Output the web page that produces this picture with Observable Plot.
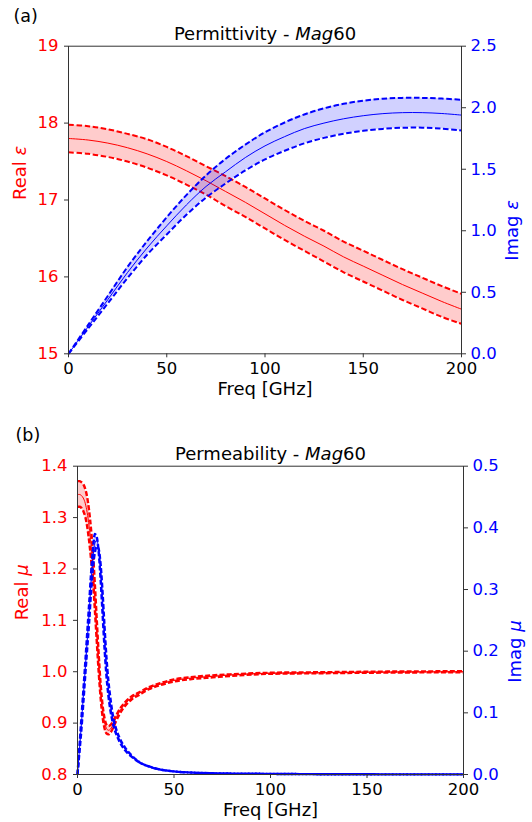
<!DOCTYPE html>
<html><head><meta charset="utf-8">
<script src="https://cdn.jsdelivr.net/npm/d3@7"></script>
<script src="https://cdn.jsdelivr.net/npm/@observablehq/plot@0.6"></script>
<style>html,body{margin:0;padding:0;background:#fff;} #chart svg{display:block;}</style>
</head><body><div id="chart"></div>
<script>
// ---------- Panel (a): Permittivity ----------
const freqA = [0,10,20,30,40,50,60,70,80,90,100,110,120,130,140,150,160,170,180,190,200];
const epsRealMean = [17.80,17.78,17.74,17.68,17.60,17.50,17.38,17.25,17.11,16.97,16.82,16.67,16.53,16.40,16.26,16.14,16.02,15.90,15.79,15.68,15.58];
const epsRealUp   = [17.98,17.96,17.92,17.86,17.79,17.69,17.57,17.44,17.31,17.17,17.02,16.87,16.73,16.60,16.46,16.34,16.22,16.10,15.99,15.88,15.78];
const epsRealLo   = [17.62,17.60,17.56,17.50,17.42,17.32,17.20,17.07,16.92,16.78,16.63,16.48,16.34,16.20,16.06,15.94,15.82,15.70,15.59,15.48,15.39];
const epsImagMean = [0,0.22,0.44,0.66,0.86,1.04,1.21,1.36,1.48,1.595,1.69,1.765,1.83,1.875,1.91,1.935,1.952,1.96,1.96,1.953,1.94];
const epsImagUp   = [0,0.235,0.47,0.705,0.915,1.11,1.29,1.45,1.585,1.70,1.80,1.88,1.945,1.995,2.032,2.057,2.073,2.08,2.08,2.074,2.065];
const epsImagLo   = [0,0.205,0.41,0.615,0.805,0.97,1.13,1.27,1.385,1.49,1.58,1.65,1.71,1.755,1.788,1.812,1.828,1.837,1.838,1.83,1.815];
const epsRealTicks = [15,16,17,18,19];
const epsImagTicks = [0,0.5,1.0,1.5,2.0,2.5];

// ---------- Panel (b): Permeability ----------
const freqB = [0,1,2,3,4,5,6,7,8,9,10,11,12,13,14,15,16,17,18,19,20,22,25,28,32,37,43,50,60,70,80,100,125,150,200];
const muRealMean = [1.345,1.345,1.343,1.338,1.328,1.31,1.283,1.248,1.205,1.145,1.08,1.016,0.962,0.925,0.902,0.89,0.886,0.888,0.894,0.902,0.91,0.924,0.939,0.949,0.958,0.968,0.976,0.983,0.988,0.991,0.994,0.997,0.998,0.999,1.0];
const muRealUp   = [1.371,1.371,1.369,1.365,1.356,1.34,1.314,1.278,1.232,1.17,1.1,1.033,0.975,0.935,0.91,0.897,0.894,0.896,0.901,0.908,0.915,0.928,0.942,0.952,0.96,0.97,0.978,0.985,0.99,0.993,0.995,0.998,0.999,1.0,1.001];
const muRealLo   = [1.321,1.321,1.319,1.313,1.302,1.283,1.255,1.22,1.178,1.12,1.058,0.998,0.948,0.912,0.89,0.88,0.878,0.881,0.887,0.895,0.904,0.919,0.935,0.946,0.955,0.966,0.974,0.981,0.986,0.989,0.992,0.996,0.997,0.998,0.999];
const muImagMean = [0,0.04,0.08,0.125,0.17,0.215,0.26,0.31,0.35,0.375,0.38,0.365,0.33,0.28,0.225,0.175,0.14,0.115,0.095,0.08,0.07,0.055,0.04,0.03,0.02,0.013,0.008,0.005,0.003,0.002,0.0015,0.001,0.0005,0.0003,0.0002];
const muImagUp   = [0,0.045,0.09,0.135,0.18,0.228,0.275,0.325,0.365,0.39,0.385,0.36,0.315,0.26,0.205,0.16,0.128,0.105,0.088,0.075,0.066,0.052,0.038,0.029,0.02,0.013,0.008,0.005,0.003,0.002,0.0015,0.001,0.0005,0.0003,0.0002];
const muImagLo   = [0,0.036,0.072,0.115,0.16,0.203,0.245,0.295,0.335,0.36,0.37,0.365,0.34,0.295,0.24,0.19,0.152,0.125,0.102,0.086,0.074,0.058,0.042,0.031,0.02,0.013,0.008,0.005,0.003,0.002,0.0015,0.001,0.0005,0.0003,0.0002];
const muRealTicks = [0.8,0.9,1.0,1.1,1.2,1.3,1.4];
const muImagTicks = [0,0.1,0.2,0.3,0.4,0.5];

const freqTicks = [0,50,100,150,200];
const FONT = "DejaVu Sans";
const RED = "#ff0000", BLUE = "#0000ff", SPINE = "#333333";

function setParts(svg, cls, parts) {
  d3.select(svg).selectAll("g." + cls + " text").each(function () {
    const t = d3.select(this);
    t.text(null);
    parts.forEach(([s, it]) => {
      const sp = t.append("tspan").text(s);
      if (it) sp.attr("font-style", "italic");
    });
  });
}

function panel(cfg) {
  const [r0, r1] = cfg.realDomain;
  const toReal = v => r0 + v / cfg.imagMax * (r1 - r0);
  const rows = cfg.freq.map((f, i) => ({
    f, rm: cfg.rMean[i], ru: cfg.rUp[i], rl: cfg.rLo[i],
    im: toReal(cfg.iMean[i]), iu: toReal(cfg.iUp[i]), il: toReal(cfg.iLo[i])
  }));
  const curve = cfg.curve;
  const dash = {strokeDasharray: cfg.dashArray, strokeWidth: cfg.dashWidth, strokeLinecap: "butt", curve};
  const svg = Plot.plot({
    width: 532, height: cfg.height,
    marginTop: cfg.mt, marginBottom: cfg.mb, marginLeft: cfg.ml, marginRight: cfg.mr,
    style: {fontFamily: FONT, fontSize: "16.5px", color: "#000", background: "#fff", overflow: "visible"},
    x: {domain: [0, 200]},
    y: {domain: cfg.realDomain},
    marks: [
      Plot.areaY(rows, {x: "f", y1: "rl", y2: "ru", fill: RED, fillOpacity: 0.2, curve}),
      Plot.lineY(rows, {x: "f", y: "rm", stroke: RED, strokeWidth: 1, curve}),
      Plot.lineY(rows, {x: "f", y: "ru", stroke: RED, ...dash}),
      Plot.lineY(rows, {x: "f", y: "rl", stroke: RED, ...dash}),
      Plot.areaY(rows, {x: "f", y1: "il", y2: "iu", fill: BLUE, fillOpacity: 0.18, curve}),
      Plot.lineY(rows, {x: "f", y: "im", stroke: BLUE, strokeWidth: 1, curve}),
      Plot.lineY(rows, {x: "f", y: "iu", stroke: BLUE, ...dash}),
      Plot.lineY(rows, {x: "f", y: "il", stroke: BLUE, ...dash}),
      Plot.frame({stroke: SPINE, strokeWidth: 1}),
      Plot.axisX(freqTicks, {tickSize: 4, tickPadding: 4.5, stroke: SPINE, fill: "#000", label: null, tickFormat: d => String(d)}),
      Plot.axisY(cfg.realTicks, {anchor: "left", tickSize: 4, tickPadding: 6, stroke: SPINE, fill: RED, label: null, tickFormat: cfg.realFmt}),
      Plot.axisY(cfg.imagTicks.map(toReal), {anchor: "right", tickSize: 4, tickPadding: 5, stroke: SPINE, fill: BLUE, label: null,
        tickFormat: d => ((d - r0) / (r1 - r0) * cfg.imagMax).toFixed(1)}),
      Plot.text([cfg.title], {frameAnchor: "top", dy: -6.5, lineAnchor: "bottom", fontSize: 18, fill: "#000", className: "ptitle"}),
      Plot.text([cfg.tag], {frameAnchor: "top-left", dx: cfg.tagDx, dy: cfg.tagDy, textAnchor: "start", lineAnchor: "bottom", fontSize: 17.5, fill: "#000"}),
      Plot.text(["Freq [GHz]"], {frameAnchor: "bottom", dy: 28.5, lineAnchor: "top", fontSize: 18, fill: "#000"}),
      Plot.text([cfg.realLabel], {frameAnchor: "left", dx: cfg.realLabelDx, rotate: -90, fill: RED, fontSize: 18, className: "rlab"}),
      Plot.text([cfg.imagLabel], {frameAnchor: "right", dx: cfg.imagLabelDx, rotate: -90, fill: BLUE, fontSize: 18, className: "ilab"})
    ]
  });
  setParts(svg, "ptitle", cfg.titleParts);
  setParts(svg, "rlab", [["Real ", false], [cfg.sym, true]]);
  setParts(svg, "ilab", [["Imag ", false], [cfg.sym, true]]);
  return svg;
}

const chart = document.getElementById("chart");
chart.appendChild(panel({
  freq: freqA, rMean: epsRealMean, rUp: epsRealUp, rLo: epsRealLo,
  iMean: epsImagMean, iUp: epsImagUp, iLo: epsImagLo,
  realDomain: [15, 19], imagMax: 2.5, realTicks: epsRealTicks, imagTicks: epsImagTicks,
  realFmt: d => String(d),
  height: 400, mt: 45.7, mb: 46.7, ml: 68, mr: 71,
  curve: "catmull-rom", dashArray: "5.5,2.6", dashWidth: 2,
  title: "Permittivity - Mag60", titleParts: [["Permittivity - ", false], ["Mag", true], ["60", false]],
  tag: "(a)", tagDx: -55, tagDy: -24,
  realLabel: "Real ε", imagLabel: "Imag ε", sym: "ε",
  realLabelDx: -48, imagLabelDx: 51
}));
chart.appendChild(panel({
  freq: freqB, rMean: muRealMean, rUp: muRealUp, rLo: muRealLo,
  iMean: muImagMean, iUp: muImagUp, iLo: muImagLo,
  realDomain: [0.8, 1.4], imagMax: 0.5, realTicks: muRealTicks, imagTicks: muImagTicks,
  realFmt: d => d.toFixed(1),
  height: 422, mt: 65.7, mb: 48, ml: 77, mr: 69,
  curve: "monotone-x", dashArray: "5,2.2", dashWidth: 2.4,
  title: "Permeability - Mag60", titleParts: [["Permeability - ", false], ["Mag", true], ["60", false]],
  tag: "(b)", tagDx: -62, tagDy: -25,
  realLabel: "Real μ", imagLabel: "Imag μ", sym: "μ",
  realLabelDx: -55, imagLabelDx: 51.5
}));
</script>
</body></html>
